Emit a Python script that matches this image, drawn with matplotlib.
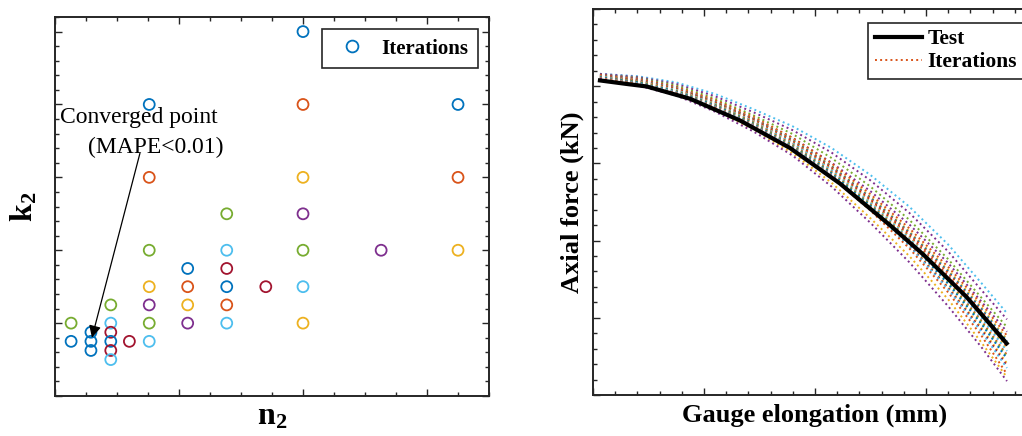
import matplotlib
matplotlib.use("Agg")
import matplotlib.pyplot as plt
from matplotlib.ticker import MultipleLocator, NullFormatter
from matplotlib.lines import Line2D

plt.rcParams['font.family'] = ['Liberation Serif', 'DejaVu Serif']
plt.rcParams['mathtext.fontset'] = 'custom'
plt.rcParams['mathtext.rm'] = 'Liberation Serif'
plt.rcParams['mathtext.bf'] = 'Liberation Serif:bold'

# MATLAB default colour order
B, O, Y, P, G, LB, DR = ['#0072BD', '#D95319', '#EDB120', '#7E2F8E', '#77AC30', '#4DBEEE', '#A2142F']

# ---------------- Left panel: iteration points (n2, k2) ----------------
n2_vals = [2.0, 0.76, 2.0, 3.25, 0.76, 2.0, 3.25, 1.385, 2.0, 0.76, 1.385, 2.0, 2.63, 3.25,
           1.07, 1.385, 0.76, 1.07, 1.385, 1.7, 2.0, 0.45, 0.76, 1.07, 1.385,
           0.13, 0.45, 0.76, 1.07, 1.385, 2.0, 0.29, 0.45, 0.13, 0.29, 0.45, 0.6, 0.76,
           0.29, 0.45, 0.45]
k2_vals = [5.0, 4.0, 4.0, 4.0, 3.0, 3.0, 3.0, 2.5, 2.5, 2.0, 2.0, 2.0, 2.0, 2.0,
           1.75, 1.75, 1.5, 1.5, 1.5, 1.5, 1.5, 1.25, 1.25, 1.25, 1.25,
           1.0, 1.0, 1.0, 1.0, 1.0, 1.0, 0.875, 0.875, 0.75, 0.75, 0.75, 0.75, 0.75,
           0.625, 0.625, 0.5]
pt_colors = [B, B, O, B, O, Y, O, G, P, G, LB, G, P, Y,
             B, DR, Y, O, B, DR, LB, G, P, Y, O,
             G, LB, G, P, LB, Y, B, DR, B, B, B, DR, LB,
             B, DR, LB]
converged = (0.298, 0.80)
annot_from = (0.685, 3.33)

# ---------------- Right panel: force-elongation curves ----------------
test_x = [0.063, 0.30, 0.484, 0.874, 1.324, 1.775, 2.225, 2.676, 2.976, 3.366, 3.727]
test_y = [4.075, 4.03, 3.997, 3.838, 3.557, 3.20, 2.74, 2.20, 1.82, 1.27, 0.669]

iter_x = [0.063, 0.4, 0.75, 1.1, 1.45, 1.8, 2.15, 2.5, 2.85, 3.2, 3.5, 3.73]
iter_curves = [
    [4.16, 4.13, 4.05, 3.90, 3.70, 3.48, 3.20, 2.85, 2.44, 1.95, 1.45, 1.06],
    [4.16, 4.12, 4.03, 3.87, 3.66, 3.43, 3.14, 2.78, 2.36, 1.86, 1.36, 0.98],
    [4.15, 4.11, 4.01, 3.84, 3.62, 3.38, 3.07, 2.70, 2.27, 1.76, 1.26, 0.88],
    [4.15, 4.10, 3.99, 3.81, 3.58, 3.33, 3.01, 2.64, 2.21, 1.71, 1.21, 0.82],
    [4.145, 4.09, 3.99, 3.82, 3.60, 3.33, 3.00, 2.60, 2.16, 1.66, 1.18, 0.77],
    [4.135, 4.08, 3.98, 3.80, 3.58, 3.31, 2.97, 2.57, 2.12, 1.62, 1.14, 0.72],
    [4.135, 4.075, 3.975, 3.795, 3.575, 3.30, 2.96, 2.555, 2.105, 1.60, 1.115, 0.695],
    [4.135, 4.07, 3.97, 3.79, 3.57, 3.29, 2.95, 2.54, 2.09, 1.58, 1.09, 0.67],
    [4.125, 4.07, 3.96, 3.78, 3.55, 3.27, 2.93, 2.52, 2.06, 1.54, 1.04, 0.62],
    [4.125, 4.065, 3.955, 3.775, 3.545, 3.265, 2.92, 2.505, 2.045, 1.525, 1.02, 0.595],
    [4.125, 4.06, 3.95, 3.77, 3.54, 3.26, 2.91, 2.49, 2.03, 1.51, 1.00, 0.57],
    [4.115, 4.06, 3.94, 3.76, 3.53, 3.24, 2.89, 2.47, 2.01, 1.48, 0.96, 0.52],
    [4.115, 4.055, 3.935, 3.755, 3.52, 3.23, 2.88, 2.46, 1.995, 1.46, 0.94, 0.495],
    [4.115, 4.05, 3.93, 3.75, 3.51, 3.22, 2.87, 2.45, 1.98, 1.44, 0.92, 0.47],
    [4.105, 4.04, 3.92, 3.74, 3.50, 3.21, 2.85, 2.43, 1.95, 1.40, 0.87, 0.41],
    [4.105, 4.04, 3.92, 3.735, 3.495, 3.205, 2.845, 2.42, 1.94, 1.385, 0.845, 0.38],
    [4.105, 4.04, 3.92, 3.73, 3.49, 3.20, 2.84, 2.41, 1.93, 1.37, 0.82, 0.35],
    [4.105, 4.03, 3.91, 3.72, 3.48, 3.18, 2.82, 2.39, 1.90, 1.33, 0.77, 0.27],
    [4.10, 4.02, 3.89, 3.69, 3.44, 3.13, 2.75, 2.29, 1.80, 1.24, 0.68, 0.23],
    [4.10, 4.01, 3.88, 3.67, 3.41, 3.10, 2.70, 2.23, 1.72, 1.15, 0.62, 0.18],
]
iter_colors = [LB, P, G, P, O, Y, B, O, DR, Y, LB, O, G, B, Y, DR, LB, O, Y, P]

FRAME = '#262626'

fig = plt.figure(figsize=(10.22, 4.36), dpi=100)


def style_axes(ax, xmaj, xmin, ymaj, ymin):
    ax.xaxis.set_major_locator(MultipleLocator(xmaj))
    ax.xaxis.set_minor_locator(MultipleLocator(xmin))
    ax.yaxis.set_major_locator(MultipleLocator(ymaj))
    ax.yaxis.set_minor_locator(MultipleLocator(ymin))
    ax.xaxis.set_major_formatter(NullFormatter())
    ax.yaxis.set_major_formatter(NullFormatter())
    ax.tick_params(which='both', direction='in', top=True, right=True, color=FRAME, width=1.0)
    ax.tick_params(which='major', length=5)
    ax.tick_params(which='minor', length=3)
    for s in ax.spines.values():
        s.set_color(FRAME)
        s.set_linewidth(1.4)


# Left panel
ax1 = fig.add_axes([0.0538, 0.0917, 0.4247, 0.8693])
ax1.scatter(n2_vals, k2_vals, s=62, facecolors='none', edgecolors=pt_colors, linewidths=1.3,
            zorder=3)
ax1.set_xlim(0, 3.5)
ax1.set_ylim(0, 5.2)
style_axes(ax1, 1.0, 0.25, 1.0, 0.2)
ax1.annotate('', xy=converged, xytext=annot_from,
             arrowprops=dict(arrowstyle='-|>', color='black', lw=0.9,
                             mutation_scale=18, shrinkA=0, shrinkB=0), zorder=4)
ax1.text(0.04, 3.82, 'Converged point', fontsize=17, ha='left', va='center')
ax1.text(0.265, 3.41, '(MAPE<0.01)', fontsize=17, ha='left', va='center')
ax1.set_xlabel(r'$\mathbf{n_2}$', fontsize=23, labelpad=1)
ax1.set_ylabel(r'$\mathbf{k_2}$', fontsize=23, labelpad=8)
h1 = Line2D([], [], ls='none', marker='o', mfc='none', mec=B, mew=1.3, ms=8.5)
leg1 = ax1.legend([h1], ['Iterations'], loc='upper left', bbox_to_anchor=(0.615, 0.968),
                  prop=dict(weight='bold', size=15), frameon=True, fancybox=False,
                  edgecolor=FRAME, framealpha=1, borderpad=0.45, handletextpad=0.4,
                  handlelength=2.0, borderaxespad=0)
leg1.get_frame().set_linewidth(1.2)

# Right panel
ax2 = fig.add_axes([0.5802, 0.094, 0.4344, 0.8853])
for yv, col in zip(iter_curves, iter_colors):
    ax2.plot(iter_x, yv, ls=':', color=col, lw=1.4, zorder=2)
ax2.plot(test_x, test_y, color='black', lw=3.0, zorder=3)
ax2.set_xlim(0, 4)
ax2.set_ylim(0, 5)
style_axes(ax2, 1.0, 0.2, 1.0, 0.2)
ax2.set_xlabel('Gauge elongation (mm)', fontsize=19, fontweight='bold', labelpad=3)
ax2.set_ylabel('Axial force (kN)', fontsize=19, fontweight='bold', labelpad=3)
h_test = Line2D([], [], color='black', lw=3.0)
h_iter = Line2D([], [], color=O, lw=1.4, ls=':')
leg2 = ax2.legend([h_test, h_iter], ['Test', 'Iterations'], loc='upper left',
                  bbox_to_anchor=(0.62, 0.964), prop=dict(weight='bold', size=15.5),
                  frameon=True, fancybox=False, edgecolor=FRAME, framealpha=1,
                  borderpad=0.3, handletextpad=0.25, handlelength=2.2, labelspacing=0.12,
                  borderaxespad=0)
leg2.get_frame().set_linewidth(1.2)

fig.savefig('out.png', dpi=100)
